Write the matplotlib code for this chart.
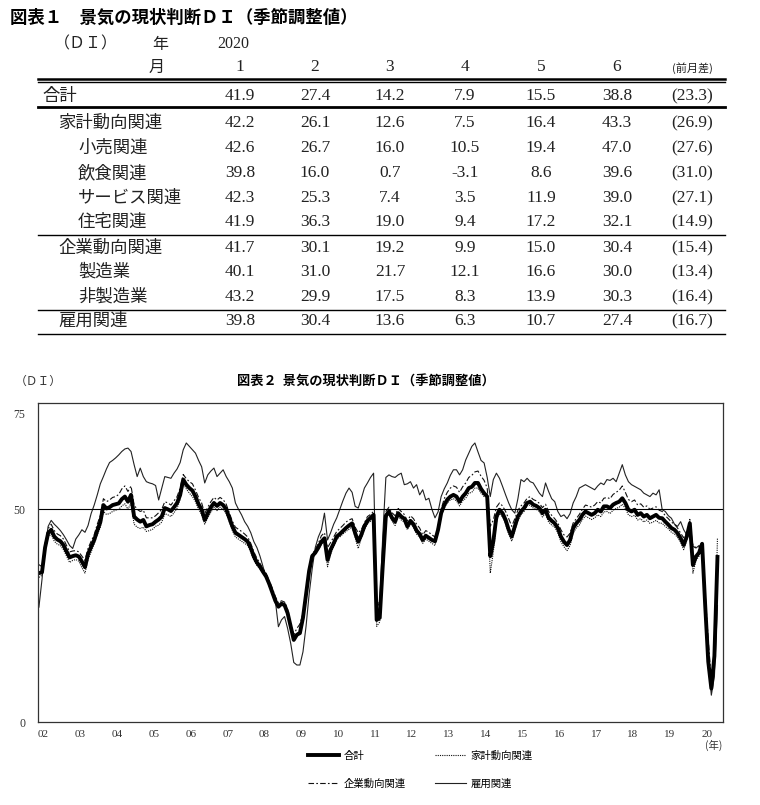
import numpy as np
import matplotlib.pyplot as plt
from matplotlib.lines import Line2D
from matplotlib.transforms import blended_transform_factory


plt.rcParams['font.family'] = ['Noto Sans CJK JP', 'DejaVu Sans']
SERIF = ['Liberation Serif', 'DejaVu Serif']

# ------------------------------------------------------------
# figure 1 : table
# ------------------------------------------------------------

table_title = "図表１　景気の現状判断ＤＩ（季節調整値）"
table_year = "2020"
table_months = ["1", "2", "3", "4", "5", "6"]

table_rows = ["合計", "家計動向関連", "小売関連", "飲食関連", "サービス関連",
              "住宅関連", "企業動向関連", "製造業", "非製造業", "雇用関連"]
table_indent = [0, 1, 2, 2, 2, 2, 1, 2, 2, 1]

table_vals = [
    [41.9, 27.4, 14.2, 7.9, 15.5, 38.8],
    [42.2, 26.1, 12.6, 7.5, 16.4, 43.3],
    [42.6, 26.7, 16.0, 10.5, 19.4, 47.0],
    [39.8, 16.0, 0.7, -3.1, 8.6, 39.6],
    [42.3, 25.3, 7.4, 3.5, 11.9, 39.0],
    [41.9, 36.3, 19.0, 9.4, 17.2, 32.1],
    [41.7, 30.1, 19.2, 9.9, 15.0, 30.4],
    [40.1, 31.0, 21.7, 12.1, 16.6, 30.0],
    [43.2, 29.9, 17.5, 8.3, 13.9, 30.3],
    [39.8, 30.4, 13.6, 6.3, 10.7, 27.4],
]
table_diff = [23.3, 26.9, 27.6, 31.0, 27.1, 14.9, 15.4, 13.4, 16.4, 16.7]

# ------------------------------------------------------------
# figure 2 : monthly DI, 2002-01 .. 2020-06
# ------------------------------------------------------------

chart_title = "図表２  景気の現状判断ＤＩ（季節調整値）"
year_labels = ["02", "03", "04", "05", "06", "07", "08", "09", "10", "11",
               "12", "13", "14", "15", "16", "17", "18", "19", "20"]

di_total = [
    35.0, 35.2, 41.0, 44.4, 45.2, 43.6, 42.9, 42.5, 41.6, 40.1, 38.7, 39.0,  # 02
    39.2, 38.9, 37.7, 36.4, 39.5, 41.2, 42.8, 45.0, 47.0, 51.0, 50.2, 50.5,  # 03
    51.0, 51.2, 51.4, 52.4, 53.0, 51.8, 53.4, 48.3, 47.6, 47.1, 47.5, 46.0,  # 04
    46.3, 46.5, 47.1, 47.6, 48.3, 50.3, 50.0, 49.6, 50.5, 51.5, 53.4, 57.0,  # 05
    55.8, 55.0, 54.4, 53.0, 51.2, 49.9, 47.5, 49.1, 50.5, 51.5, 50.8, 51.5,  # 06
    51.0, 50.0, 48.0, 46.0, 44.5, 44.0, 43.5, 43.0, 42.4, 40.9, 38.9, 37.5,  # 07
    36.5, 35.3, 34.2, 32.5, 30.5, 28.5, 27.1, 27.8, 27.5, 25.6, 22.4, 19.3,  # 08
    20.5, 20.9, 24.5, 30.0, 35.5, 39.0, 39.8, 41.0, 42.4, 43.2, 38.1, 40.5,  # 09
    42.0, 43.6, 44.2, 44.9, 45.6, 46.2, 46.7, 44.4, 42.4, 44.0, 46.0, 47.3,  # 10
    48.0, 48.7, 24.0, 24.5, 37.0, 48.5, 49.5, 48.0, 47.1, 49.1, 48.3, 47.8,  # 11
    46.0, 47.3, 46.5, 45.0, 44.2, 42.8, 43.8, 43.3, 42.8, 42.5, 45.2, 49.1,  # 12
    51.0, 52.3, 53.0, 53.4, 53.0, 51.8, 53.0, 53.8, 55.0, 55.3, 56.2, 56.2,  # 13
    54.8, 53.8, 53.0, 39.0, 42.5, 48.3, 49.9, 49.1, 47.5, 45.2, 43.6, 46.0,  # 14
    48.3, 49.5, 50.3, 51.5, 51.8, 51.1, 50.8, 50.3, 49.1, 49.9, 48.0, 47.3,  # 15
    46.7, 45.6, 43.6, 42.4, 41.6, 42.8, 45.6, 46.7, 47.5, 48.7, 49.5, 49.1,  # 16
    48.7, 49.1, 49.9, 49.5, 50.7, 50.7, 50.3, 51.1, 51.5, 51.8, 52.6, 51.5,  # 17
    49.9, 49.5, 49.9, 48.7, 49.1, 48.3, 48.7, 47.9, 48.3, 48.7, 48.0, 47.9,  # 18
    47.1, 46.4, 45.6, 45.2, 44.4, 43.2, 41.6, 43.6, 46.7, 36.9, 38.9, 39.8,  # 19
    41.9, 27.4, 14.2, 7.9, 15.5, 38.8,                                       # 20
]

di_household = [
    34.0, 34.5, 40.0, 43.5, 44.2, 42.5, 41.8, 41.5, 40.5, 39.0, 37.5, 38.0,  # 02
    38.2, 37.8, 36.3, 35.0, 38.2, 40.0, 41.8, 44.0, 45.8, 49.5, 48.8, 49.0,  # 03
    49.5, 49.8, 50.0, 50.8, 51.3, 50.0, 51.5, 46.5, 45.8, 45.5, 45.8, 44.8,  # 04
    45.0, 45.3, 46.0, 46.3, 47.0, 49.0, 48.7, 48.3, 49.2, 50.3, 52.3, 56.0,  # 05
    54.8, 53.8, 53.0, 51.8, 50.0, 48.8, 46.5, 48.0, 49.3, 50.5, 49.7, 50.5,  # 06
    50.0, 49.0, 47.0, 45.0, 43.5, 43.0, 42.5, 42.0, 41.5, 40.0, 38.0, 36.8,  # 07
    36.0, 35.0, 33.8, 32.0, 30.0, 28.0, 27.0, 27.8, 27.2, 25.5, 22.5, 19.8,  # 08
    20.8, 21.2, 25.0, 30.5, 35.8, 39.0, 39.5, 40.5, 41.8, 42.5, 36.5, 39.5,  # 09
    41.3, 43.0, 43.5, 44.2, 44.8, 45.3, 46.0, 43.3, 40.8, 43.2, 45.3, 46.6,  # 10
    47.2, 48.0, 22.5, 23.5, 36.0, 47.8, 48.8, 47.2, 46.2, 48.5, 47.5, 47.0,  # 11
    45.2, 46.6, 45.8, 44.2, 43.4, 42.0, 43.0, 42.5, 42.0, 41.5, 44.5, 48.5,  # 12
    50.3, 51.5, 52.2, 52.5, 52.0, 50.8, 52.0, 52.6, 53.8, 54.0, 55.0, 55.0,  # 13
    53.8, 53.0, 53.5, 35.0, 40.0, 47.0, 49.0, 48.2, 46.5, 44.2, 42.5, 45.0,  # 14
    47.3, 48.7, 49.5, 50.8, 51.0, 50.3, 50.0, 49.5, 48.2, 49.0, 47.0, 46.3,  # 15
    45.8, 44.5, 42.4, 41.2, 40.3, 41.5, 44.4, 45.6, 46.3, 47.6, 48.4, 48.0,  # 16
    47.6, 48.0, 48.7, 48.3, 49.4, 49.5, 49.0, 49.8, 50.2, 50.5, 51.2, 50.2,  # 17
    48.7, 48.3, 48.6, 47.5, 47.8, 47.0, 47.5, 46.7, 47.0, 47.4, 46.8, 46.7,  # 18
    46.0, 45.4, 44.6, 44.2, 43.4, 42.3, 40.5, 42.8, 47.8, 35.0, 38.0, 39.0,  # 19
    42.2, 26.1, 12.6, 7.5, 16.4, 43.3,                                       # 20
]

di_corporate = [
    37.0, 36.5, 42.0, 45.5, 46.5, 45.0, 44.2, 43.8, 43.0, 41.5, 40.0, 40.2,  # 02
    40.3, 40.0, 39.0, 38.0, 40.8, 42.5, 44.0, 46.5, 48.5, 52.5, 51.8, 52.2,  # 03
    52.8, 53.0, 53.5, 54.8, 55.5, 54.2, 55.5, 51.0, 50.0, 49.5, 49.8, 48.0,  # 04
    48.0, 48.0, 48.5, 49.2, 50.0, 51.8, 51.5, 51.0, 52.0, 53.0, 55.0, 58.2,  # 05
    57.2, 56.5, 56.0, 54.5, 52.8, 51.5, 49.0, 50.5, 51.8, 52.8, 52.2, 52.8,  # 06
    52.3, 51.2, 49.2, 47.2, 45.8, 45.3, 44.8, 44.2, 43.5, 42.0, 40.0, 38.5,  # 07
    37.3, 36.0, 35.0, 33.2, 31.5, 29.5, 28.0, 28.5, 28.2, 26.5, 23.0, 20.5,  # 08
    22.0, 23.0, 25.5, 29.5, 35.0, 39.5, 40.5, 42.0, 43.8, 44.5, 41.0, 42.2,  # 09
    43.5, 44.8, 45.5, 46.2, 47.0, 47.5, 47.8, 45.8, 44.5, 45.2, 46.8, 48.3,  # 10
    48.8, 49.5, 28.5, 27.5, 39.5, 49.5, 50.5, 49.2, 48.5, 50.2, 49.5, 48.8,  # 11
    47.3, 48.5, 47.8, 46.5, 45.6, 44.0, 45.0, 44.6, 44.0, 43.5, 46.0, 50.0,  # 12
    52.5, 54.0, 55.0, 55.5, 55.2, 54.0, 55.3, 56.2, 57.5, 58.0, 58.8, 59.0,  # 13
    57.8, 56.8, 55.0, 46.0, 47.5, 50.5, 51.5, 50.8, 49.5, 47.8, 46.0, 47.8,  # 14
    49.8, 50.8, 51.5, 52.6, 53.0, 52.3, 52.0, 51.4, 50.4, 51.2, 49.5, 48.6,  # 15
    47.8, 46.8, 45.2, 44.0, 43.5, 44.4, 46.8, 47.8, 48.8, 50.0, 51.0, 50.8,  # 16
    50.5, 51.0, 51.8, 51.5, 52.6, 52.8, 52.5, 53.5, 54.0, 54.5, 55.5, 54.0,  # 17
    52.3, 51.8, 52.2, 51.0, 51.3, 50.5, 50.8, 50.0, 50.3, 50.6, 49.8, 49.5,  # 18
    48.5, 47.8, 47.0, 46.5, 45.6, 44.4, 43.3, 44.5, 45.0, 41.5, 41.0, 41.2,  # 19
    41.7, 30.1, 19.2, 9.9, 15.0, 30.4,                                       # 20
]

di_employment = [
    27.0, 33.5, 41.0, 46.0, 47.4, 46.5, 45.8, 45.0, 44.0, 42.8, 41.5, 40.8,  # 02
    43.0, 44.0, 45.2, 44.6, 46.2, 49.0, 51.0, 53.4, 56.0, 57.7, 59.5, 61.0,  # 03
    61.5, 62.1, 62.8, 63.6, 64.2, 64.4, 63.6, 60.5, 57.7, 59.7, 57.7, 56.5,  # 04
    56.2, 56.0, 55.6, 52.2, 55.0, 57.7, 57.5, 57.3, 58.5, 59.5, 61.0, 64.0,  # 05
    65.6, 64.8, 64.0, 63.2, 61.5, 60.0, 56.2, 58.1, 59.0, 59.7, 57.7, 58.5,  # 06
    59.3, 57.7, 56.5, 55.0, 51.5, 50.0, 48.7, 47.1, 46.0, 44.5, 42.4, 41.0,  # 07
    39.0, 36.5, 34.0, 32.0, 31.0, 28.5, 22.4, 24.0, 24.8, 22.0, 18.5, 14.0,  # 08
    13.4, 13.4, 16.5, 22.5, 30.0, 36.0, 41.0, 43.5, 45.2, 49.1, 42.8, 44.5,  # 09
    46.5, 48.0, 50.0, 52.0, 53.8, 55.0, 54.0, 50.7, 50.3, 52.5, 55.0, 56.2,  # 10
    57.5, 58.5, 27.0, 28.0, 44.0, 57.5, 58.1, 57.7, 57.5, 58.1, 58.5, 55.8,  # 11
    56.0, 56.5, 55.0, 55.8, 53.4, 54.6, 52.2, 52.6, 50.0, 48.0, 49.4, 53.0,  # 12
    54.8, 56.2, 58.0, 59.3, 59.3, 58.1, 59.3, 61.6, 63.2, 64.8, 65.6, 63.5,  # 13
    61.5, 60.9, 57.5, 53.0, 57.0, 58.5, 57.3, 55.4, 53.4, 51.5, 49.9, 49.1,  # 14
    52.5, 57.0, 56.5, 57.3, 56.5, 56.2, 55.0, 53.8, 53.0, 56.2, 54.2, 52.5,  # 15
    51.8, 49.5, 48.3, 48.7, 47.8, 49.0, 51.5, 53.0, 55.0, 55.4, 55.8, 55.4,  # 16
    55.0, 54.6, 55.5, 56.2, 55.8, 57.0, 56.8, 57.3, 56.5, 58.5, 60.5, 58.1,  # 17
    56.5, 55.8, 55.4, 55.0, 54.6, 53.8, 53.4, 53.0, 53.8, 53.4, 54.6, 49.9,  # 18
    49.5, 48.5, 47.9, 46.5, 46.0, 47.1, 45.2, 44.0, 47.1, 41.3, 40.9, 41.5,  # 19
    39.8, 30.4, 13.6, 6.3, 10.7, 27.4,                                       # 20
]

assert len(di_total) == len(di_household) == len(di_corporate) == len(di_employment)


# ------------------------------------------------------------
# canvas (pixel coords for the table part)
# ------------------------------------------------------------

W, H = 760, 805
fig = plt.figure(figsize=(W / 100, H / 100), dpi=100)

bg = fig.add_axes([0, 0, 1, 1])
bg.set_xlim(0, W)
bg.set_ylim(H, 0)
bg.axis("off")

bg.text(10, 18, table_title, fontsize=12.5, fontweight="bold", va="center", ha="left")

# header
bg.text(86, 44, "（ＤＩ）", fontsize=11.5, va="center", ha="center", color="#222")
bg.text(160, 44, "年", fontsize=11.5, va="center", ha="center", color="#222")
bg.text(233, 44, table_year, fontsize=11.5, va="center", ha="center", family=SERIF, color="#222")
bg.text(157, 67, "月", fontsize=11.5, va="center", ha="center", color="#222")

col_x = [240, 315, 390, 465, 541, 617]
diff_x = 692
for cx, m in zip(col_x, table_months):
    bg.text(cx, 67, m, fontsize=12.5, va="center", ha="center", family=SERIF, color="#222")
bg.text(diff_x, 68, "(前月差)", fontsize=8, va="center", ha="center", color="#222")

# rules
bg.plot([38, 725], [79, 79], color="black", lw=1.8)
bg.plot([38, 725], [82.5, 82.5], color="black", lw=1.0)
bg.plot([38, 725], [107, 107], color="black", lw=2.0)
for yy in (235, 310, 334):
    bg.plot([38, 725], [yy, yy], color="black", lw=1.0)

row_y = [96, 123, 148, 173, 198, 222, 248, 272, 297, 321]
indent_x = {0: 42, 1: 58, 2: 78}
for label, ind, yy, vals, dd in zip(table_rows, table_indent, row_y, table_vals, table_diff):
    bg.text(indent_x[ind], yy, label, fontsize=12.5, va="center", ha="left", color="#222")
    for cx, v in zip(col_x, vals):
        bg.text(cx, yy, f"{v:.1f}", fontsize=12.5, va="center", ha="center",
                family=SERIF, color="#222")
    bg.text(diff_x, yy, f"({dd:.1f})", fontsize=12.5, va="center", ha="center",
            family=SERIF, color="#222")


# ------------------------------------------------------------
# line chart
# ------------------------------------------------------------

bg.text(366, 382, chart_title, fontsize=9.5, fontweight="bold", va="center", ha="center")
bg.text(38, 381, "（ＤＩ）", fontsize=8.5, va="center", ha="center", color="#333")

ax = fig.add_axes([38 / W, 1 - 722 / H, (723 - 38) / W, (722 - 403) / H])

x = np.arange(len(di_total))

ax.plot(x, di_employment, color="#222222", lw=0.8, label="雇用関連")
ax.plot(x, di_corporate, color="#111111", lw=0.8, ls=(0, (5, 2, 1.5, 2)), label="企業動向関連")
ax.plot(x, di_household, color="#111111", lw=0.8, ls=(0, (1, 1)), label="家計動向関連")
ax.plot(x, di_total, color="black", lw=2.8, label="合計")
ax.axhline(50, color="black", lw=0.8)

ax.set_xlim(-0.3, len(di_total) + 0.8)
ax.set_ylim(0, 75)

ax.set_xticks([12 * k + 1.5 for k in range(len(year_labels))])
ax.set_xticklabels(year_labels, fontsize=8, family=SERIF, color="#333")
ax.set_yticks([0, 50])
ax.set_yticklabels(["0", "50"], fontsize=8.5, family=SERIF, color="#333")
ax.tick_params(axis="both", length=0)
ax.tick_params(axis="x", pad=6)
ax.tick_params(axis="y", pad=9)

trans = blended_transform_factory(ax.transAxes, ax.transData)
ax.text(-0.019, 72.2, "75", transform=trans, fontsize=8.5, family=SERIF,
        color="#333", ha="right", va="center")

for sp in ax.spines.values():
    sp.set_linewidth(0.9)
    sp.set_color("#333")

bg.text(714, 745, "(年)", fontsize=7.5, va="center", ha="center", color="#333")

# legend
h_total = Line2D([], [], color="black", lw=2.8)
h_house = Line2D([], [], color="#111111", lw=0.8, ls=(0, (1, 1)))
h_corp = Line2D([], [], color="#111111", lw=0.8, ls=(0, (5, 2, 1.5, 2)))
h_emp = Line2D([], [], color="#222222", lw=0.8)

fig.legend(
    [h_total, h_corp, h_house, h_emp],
    ["合計", "企業動向関連", "家計動向関連", "雇用関連"],
    ncol=2,
    loc="upper left",
    bbox_to_anchor=(308 / W, 1 - 751 / H),
    frameon=False,
    fontsize=7.5,
    handlelength=3.0,
    handletextpad=0.4,
    columnspacing=2.8,
    labelspacing=1.7,
    borderpad=0,
    borderaxespad=0,
)

fig.savefig("out.png", dpi=100, facecolor="white")
